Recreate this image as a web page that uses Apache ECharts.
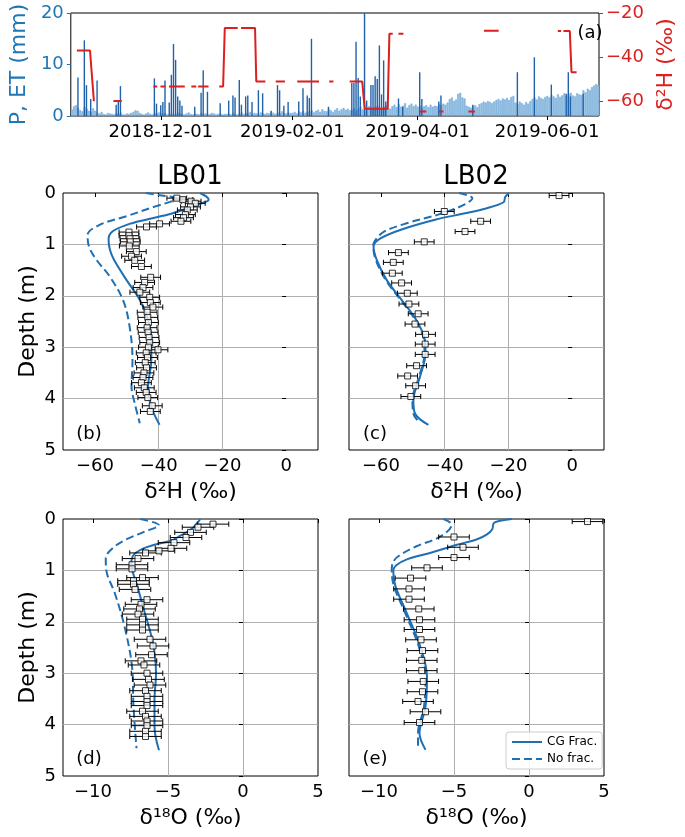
<!DOCTYPE html>
<html><head><meta charset="utf-8">
<script src="https://cdn.jsdelivr.net/npm/echarts@6/dist/echarts.min.js"></script>
<style>html,body{margin:0;padding:0;background:#fff}#c{width:685px;height:837px}</style>
</head><body><div id="c"></div>
<script>
// ---------------- DATA ----------------
// Panel (a): time range and date ticks
const timeRange = ['2018-10-19 15:00', '2019-06-25 11:00'];
const dateTicks = ['2018-12-01', '2019-02-01', '2019-04-01', '2019-06-01'];
const pTicks = [0, 10, 20];
const dHTicksA = [-60, -40, -20];

// Precipitation (mm)
const precipDates = ['2018-10-23','2018-10-26','2018-10-27','2018-10-29','2018-11-01','2018-11-10','2018-11-11','2018-11-12','2018-11-28','2018-11-29',
 '2018-12-01','2018-12-02','2018-12-03','2018-12-05','2018-12-06','2018-12-07','2018-12-08','2018-12-09','2018-12-10','2018-12-11','2018-12-17','2018-12-20','2018-12-21','2018-12-23','2018-12-29',
 '2019-01-02','2019-01-04','2019-01-05','2019-01-07','2019-01-08','2019-01-10','2019-01-11','2019-01-13','2019-01-16','2019-01-18','2019-01-22','2019-01-25','2019-01-26','2019-01-28','2019-01-30',
 '2019-02-04','2019-02-06','2019-02-08','2019-02-09','2019-02-10','2019-02-18',
 '2019-03-01','2019-03-02','2019-03-03','2019-03-04','2019-03-05','2019-03-07','2019-03-08','2019-03-10','2019-03-11','2019-03-12','2019-03-13','2019-03-14','2019-03-15','2019-03-16','2019-03-17','2019-03-23','2019-03-25',
 '2019-04-02','2019-04-03','2019-04-11','2019-04-12','2019-04-27','2019-05-18','2019-05-26',
 '2019-06-03','2019-06-10','2019-06-11','2019-06-12','2019-06-18'];
const precipValues = [7.5,14.7,6.0,3.3,6.9,2.2,2.9,5.8,7.3,2.4,
 2.1,2.7,6.9,2.6,8.0,14.0,10.9,3.8,3.0,2.0,1.8,4.5,8.9,4.7,2.5,
 3.0,4.0,3.6,7.0,2.2,3.8,4.0,2.7,5.0,4.4,1.0,6.0,5.0,2.0,2.7,
 2.8,5.4,4.0,3.5,15.0,1.8,
 6.4,6.4,14.4,7.4,3.8,21.0,3.0,6.0,6.0,7.7,7.2,13.7,4.2,10.8,2.8,3.4,1.8,
 8.5,3.3,2.8,4.0,2.2,8.5,11.4,
 6.1,4.3,8.5,3.8,4.3];

// Evapotranspiration (mm/day), one value per day from each start date
const etOct = [1.3,1.9,2.1,1.5,1.1,0.9,1.7,1.4,1.0,0.8,1.5,1.0];
const etNov = [0.7,0.5,0.8,0.4,0.3,0.6,0.5,0.4,0.3,0.6,0.4,0.7,0.3,0.3,0.5,0.4,0.6,0.8,1.1,1.0,0.6,0.4,0.3,0.5,0.7,0.4,0.3,0.6,0.5,0.7];
const etDec = [0.5,0.4,0.6,0.3,0.4,0.5,0.3,0.4,0.6,0.5,0.4,0.3,0.5,0.7,0.4,0.3,0.5,0.4,0.3,0.6,0.4,0.5,0.3,0.4,0.6,0.5,0.3,0.4,0.5,0.3,0.4];
const etJan = [0.4,0.5,0.3,0.6,0.4,0.3,0.5,0.7,0.4,0.6,0.5,0.8,0.4,0.6,0.5,0.3,0.7,0.5,0.4,0.6,0.5,0.8,0.6,0.4,0.7,0.5,0.9,0.6,0.5,0.7,0.6];
const etFeb = [0.6,0.8,0.5,0.9,0.7,1.0,0.6,0.8,0.9,1.1,0.7,1.0,1.2,0.8,1.3,1.0,0.9,1.4,1.1,0.8,1.2,1.5,1.0,1.3,1.6,1.2,1.4,1.1];
const etMar = [1.2,1.5,1.0,1.4,1.8,1.3,1.1,1.6,1.9,1.4,1.2,1.7,2.0,1.5,1.3,1.8,2.1,1.6,1.4,1.9,2.2,1.7,2.3,1.8,2.0,2.5,1.6,2.1,2.4,1.9,2.2];
const etApr = [1.8,2.0,1.6,1.9,2.1,1.7,2.2,1.8,2.0,1.9,2.3,2.1,2.4,2.2,2.6,3.3,3.6,2.9,3.2,4.3,4.5,3.6,3.4,2.0,1.8,1.6,1.9,2.1,1.7,2.3];
const etMay = [2.5,2.8,2.6,2.9,2.7,2.5,2.8,3.1,3.3,3.0,3.4,3.2,3.5,3.1,3.7,3.9,2.6,2.3,2.8,2.5,2.2,2.7,2.4,2.9,3.3,3.6,3.2,3.8,3.5,3.3,3.7];
const etJun = [3.9,3.6,4.1,3.8,3.5,4.2,3.7,4.0,4.4,3.9,4.3,4.5,4.0,3.8,4.4,4.2,4.1,5.0,4.6,5.3,5.0,5.6,5.9,6.2,6.0];
const etMonths = [['2018-10-20', etOct], ['2018-11-01', etNov], ['2018-12-01', etDec], ['2019-01-01', etJan], ['2019-02-01', etFeb],
 ['2019-03-01', etMar], ['2019-04-01', etApr], ['2019-05-01', etMay], ['2019-06-01', etJun]];

// Precipitation δ2H (‰): continuous segments of [date, value]
const rainD2H = [
 [['2018-10-22 12:00',-37.0],['2018-10-28 16:00',-37.0],['2018-10-30 12:00',-60.0]],
 [['2018-11-08 17:00',-59.9],['2018-11-12 15:00',-59.9]],
 [['2018-11-27 12:00',-53.3],['2018-11-29 08:00',-53.3]],
 [['2018-11-30 21:00',-53.3],['2018-12-03 07:00',-53.3]],
 [['2018-12-04 21:00',-53.3],['2018-12-12 08:00',-53.3]],
 [['2018-12-15 10:00',-53.3],['2018-12-17 17:00',-53.3]],
 [['2018-12-18 15:00',-53.3],['2018-12-23 12:00',-53.3]],
 [['2018-12-28 13:00',-53.3],['2018-12-30 09:00',-53.3],['2018-12-31 04:00',-26.8],['2019-01-06 06:00',-26.8]],
 [['2019-01-07 20:00',-26.8],['2019-01-14 10:00',-26.8],['2019-01-15 00:00',-51.1],['2019-01-19 07:00',-51.1]],
 [['2019-01-24 04:00',-51.1],['2019-01-28 12:00',-51.1]],
 [['2019-02-03 07:00',-51.1],['2019-02-13 13:00',-51.1]],
 [['2019-02-18 09:00',-51.1],['2019-02-20 08:00',-51.1]],
 [['2019-02-28 00:00',-51.1],['2019-03-05 22:00',-51.1],['2019-03-07 02:00',-63.4],['2019-03-17 22:00',-63.4],['2019-03-18 17:00',-29.4],['2019-03-20 07:00',-29.4]],
 [['2019-03-23 00:00',-29.4],['2019-03-25 08:00',-29.4]],
 [['2019-04-02 00:00',-64.7],['2019-04-05 02:00',-64.7]],
 [['2019-04-11 04:00',-64.7],['2019-04-13 04:00',-64.7]],
 [['2019-04-24 23:00',-64.7],['2019-04-28 00:00',-64.7]],
 [['2019-05-02 07:00',-28.0],['2019-05-09 05:00',-28.0]],
 [['2019-06-06 01:00',-28.2],['2019-06-07 14:00',-28.2]],
 [['2019-06-08 17:00',-28.2],['2019-06-11 17:00',-28.2],['2019-06-12 12:00',-46.9],['2019-06-14 22:00',-46.9]]
];

// Profiles: tick labels
const d2HTicks = [-60, -40, -20, 0];
const d18OTicks = [-10, -5, 0, 5];
const depthTicks = [0, 1, 2, 3, 4, 5];

// LB01 δ2H measurements
const lb01HDepth = [0.10,0.13,0.16,0.20,0.27,0.33,0.42,0.48,0.55,0.60,0.66,0.76,0.83,0.89,0.95,1.03,1.14,1.23,1.31,1.43,1.64,1.74,1.84,1.93,2.03,2.13,2.22,2.32,2.42,2.52,2.62,2.71,2.81,2.91,3.00,3.05,3.11,3.20,3.30,3.40,3.50,3.59,3.69,3.79,3.88,3.98,4.14,4.25];
const lb01HVal = [-34.3,-32.4,-29.8,-28.5,-30.0,-31.0,-31.6,-32.2,-33.0,-39.7,-43.8,-49.3,-49.3,-49.0,-48.9,-49.2,-47.0,-48.5,-47.5,-45.4,-42.5,-44.4,-44.9,-45.9,-42.8,-42.6,-41.8,-43.6,-43.4,-43.2,-43.6,-43.3,-43.0,-42.8,-43.2,-40.2,-43.9,-43.5,-44.2,-43.8,-44.6,-44.9,-45.4,-44.5,-43.9,-43.4,-42.0,-42.6];
const lb01HErr = 3.1;
// LB02 δ2H measurements
const lb02HDepth = [0.05,0.36,0.55,0.75,0.95,1.16,1.35,1.56,1.75,1.95,2.16,2.35,2.55,2.75,2.94,3.14,3.36,3.56,3.75,3.96];
const lb02HVal = [-4.1,-40.1,-28.7,-33.6,-46.4,-54.5,-56.1,-56.4,-53.5,-51.7,-51.2,-48.3,-49.3,-46.0,-46.1,-46.1,-48.8,-51.6,-49.1,-50.6];
const lb02HErr = 3.1;
// LB01 δ18O measurements
const lb01ODepth = [0.10,0.16,0.26,0.36,0.46,0.57,0.62,0.66,0.77,0.89,0.97,1.14,1.20,1.27,1.37,1.57,1.66,1.75,1.85,1.95,2.06,2.16,2.34,2.47,2.64,2.76,2.84,3.00,3.12,3.23,3.34,3.45,3.55,3.63,3.74,3.84,3.93,4.02,4.13,4.23];
const lb01OVal = [-2.0,-3.0,-3.5,-3.8,-4.6,-4.8,-5.6,-6.5,-7.0,-7.4,-7.4,-6.7,-7.3,-7.3,-7.2,-6.4,-6.8,-6.9,-7.0,-6.7,-6.7,-6.7,-6.2,-6.0,-6.1,-6.8,-6.6,-6.4,-6.3,-6.2,-6.5,-6.4,-6.4,-6.4,-6.7,-6.5,-6.4,-6.4,-6.5,-6.5];
const lb01OErr = 1.05;
// LB02 δ18O measurements
const lb02ODepth = [0.05,0.35,0.55,0.75,0.95,1.15,1.36,1.56,1.75,1.96,2.15,2.35,2.56,2.75,2.95,3.16,3.36,3.55,3.75,3.96];
const lb02OVal = [3.9,-5.0,-4.4,-5.0,-6.8,-7.9,-8.0,-8.0,-7.35,-7.3,-7.3,-7.2,-7.1,-7.15,-7.15,-7.05,-7.1,-7.4,-6.9,-7.3];
const lb02OErr = 1.02;

// Model curves: [depth, value]
const lb01HFrac = [[0,-27],[0.07,-25],[0.13,-24.3],[0.2,-26.5],[0.3,-31],[0.42,-37],[0.52,-44],[0.62,-50],[0.75,-54.5],[0.9,-55.7],[1.1,-55.3],[1.3,-54.0],[1.69,-50.1],[2.08,-45.9],[2.47,-43.3],[2.86,-42.3],[3.25,-42.3],[3.77,-43.3],[4.16,-42.3],[4.51,-39.7]];
const lb01HNoFrac = [[0,-44],[0.05,-39],[0.1,-34.5],[0.15,-35.5],[0.26,-41],[0.45,-50],[0.62,-58.5],[0.82,-62.3],[1.05,-61.8],[1.3,-59.5],[1.62,-55.4],[2.08,-51.2],[2.6,-49.1],[3.25,-48.2],[3.77,-48.5],[4.09,-47.5],[4.48,-45.9]];
const lb02HFrac = [[0,-19.8],[0.08,-21],[0.18,-21.5],[0.3,-27],[0.4,-34],[0.52,-43],[0.7,-53],[0.88,-60],[1.04,-62.3],[1.3,-61.3],[1.69,-58.2],[2.08,-53.5],[2.47,-48.9],[2.86,-46.2],[3.12,-46.0],[3.57,-47.7],[4.03,-49.8],[4.29,-49.3],[4.51,-45.1]];
const lb02HNoFrac = [[0,-35.5],[0.1,-31.3],[0.2,-33],[0.3,-36.5],[0.42,-42],[0.6,-52.5],[0.75,-59],[0.88,-61.3],[1.02,-62.4],[1.3,-61.6],[1.69,-58.5],[2.08,-53.8],[2.47,-49.2],[2.86,-46.5],[3.12,-46.3],[3.57,-48.0],[4.03,-50.1],[4.29,-49.8],[4.48,-47.7]];
const lb01OFrac = [[0,-2.85],[0.1,-3.1],[0.21,-3.5],[0.33,-4.2],[0.42,-4.8],[0.5,-5.9],[0.58,-6.7],[0.7,-7.3],[0.88,-7.45],[1.25,-7.1],[1.77,-6.6],[2.42,-6.0],[3.0,-5.8],[3.52,-5.9],[4.04,-5.9],[4.5,-5.6]];
const lb01ONoFrac = [[0,-6.85],[0.12,-5.6],[0.25,-6.6],[0.4,-7.8],[0.57,-8.7],[0.76,-9.15],[1.02,-9.1],[1.44,-8.55],[2.09,-7.9],[2.87,-7.4],[3.65,-7.3],[4.46,-7.1]];
const lb02OFrac = [[0,-1.15],[0.04,-2.0],[0.08,-2.35],[0.2,-2.45],[0.3,-2.8],[0.4,-3.5],[0.5,-4.8],[0.66,-6.6],[0.78,-8.1],[0.9,-8.85],[1.0,-9.05],[1.31,-8.9],[1.83,-8.15],[2.48,-7.25],[3.07,-6.8],[3.65,-6.9],[4.17,-7.3],[4.49,-6.9]];
const lb02ONoFrac = [[0,-5.7],[0.11,-5.15],[0.34,-5.9],[0.53,-7.5],[0.7,-8.6],[0.83,-9.05],[1.0,-9.15],[1.31,-9.0],[1.83,-8.25],[2.48,-7.35],[3.07,-6.9],[3.65,-7.0],[4.17,-7.4],[4.46,-7.4]];

// ---------------- BUILD ----------------
const FONT = 'DejaVu Sans';
const BLUE = '#1f77b4';
const LINEBLUE = '#1f6fb4';
const RED = '#dc1f1f';
const DAY = 86400000;
function ts(s) {
  const parts = s.split(' ');
  const d = parts[0].split('-').map(Number);
  let h = 0, mi = 0;
  if (parts[1]) { const t = parts[1].split(':').map(Number); h = t[0]; mi = t[1]; }
  return Date.UTC(d[0], d[1] - 1, d[2], h, mi);
}
function pad(n) { return (n < 10 ? '0' : '') + n; }
function fmtDate(v) { const d = new Date(v); return d.getUTCFullYear() + '-' + pad(d.getUTCMonth() + 1) + '-' + pad(d.getUTCDate()); }
function minus(v) { return String(v).replace('-', '\u2212'); }

const etData = [];
etMonths.forEach(([start, vals]) => { const t0 = ts(start); vals.forEach((v, i) => etData.push([t0 + i * DAY, v])); });
const precipData = precipDates.map((d, i) => [ts(d), precipValues[i]]);
const redData = [];
rainD2H.forEach((seg, k) => {
  seg.forEach(p => redData.push([ts(p[0]), p[1]]));
  if (k < rainD2H.length - 1) redData.push([ts(seg[seg.length - 1][0]), null]);
});

const grids = [
  { left: 62, top: 13, width: 542, height: 103 },
  { left: 63, top: 193, width: 255, height: 257 },
  { left: 349, top: 193, width: 255, height: 257 },
  { left: 63, top: 519, width: 255, height: 257 },
  { left: 349, top: 519, width: 255, height: 257 }
].map(g => Object.assign(g, { show: true, borderColor: '#000', borderWidth: 1, containLabel: false }));

const xAxes = [{
  gridIndex: 0, type: 'value', min: ts(timeRange[0]), max: ts(timeRange[1]),
  axisLine: { show: false }, splitLine: { show: false },
  axisTick: { show: true, length: 4, lineStyle: { color: '#000' }, customValues: dateTicks.map(ts) },
  axisLabel: { customValues: dateTicks.map(ts), formatter: fmtDate, fontSize: 18, color: '#000', margin: 7, fontFamily: FONT }
}];
const yAxes = [{
  gridIndex: 0, type: 'value', min: 0, max: 20, interval: 10, position: 'left',
  axisLine: { show: false }, splitLine: { show: false },
  axisTick: { show: true, length: 4, lineStyle: { color: BLUE }, customValues: pTicks },
  axisLabel: { customValues: pTicks, color: BLUE, fontSize: 18, margin: 7, fontFamily: FONT },
  name: 'P, ET (mm)', nameLocation: 'middle', nameGap: 38, nameRotate: 90,
  nameTextStyle: { color: BLUE, fontSize: 22, fontFamily: FONT }
}, {
  gridIndex: 0, type: 'value', min: -66.7, max: -20, position: 'right',
  axisLine: { show: false }, splitLine: { show: false },
  axisTick: { show: true, length: 4, lineStyle: { color: RED }, customValues: dHTicksA },
  axisLabel: { customValues: dHTicksA, color: RED, fontSize: 18, margin: 7, formatter: minus, fontFamily: FONT },
  name: 'δ²H (‰)', nameLocation: 'middle', nameGap: 56, nameRotate: 90,
  nameTextStyle: { color: RED, fontSize: 22, fontFamily: FONT }
}];

const GRIDC = '#b0b0b0';
const panels = [
  { g: 1, xmin: -70, xmax: 10, sn: 4, ticks: d2HTicks, xname: 'δ²H (‰)', yl: true, depth: lb01HDepth, val: lb01HVal, err: lb01HErr, frac: lb01HFrac, nofrac: lb01HNoFrac },
  { g: 2, xmin: -70, xmax: 10, sn: 4, ticks: d2HTicks, xname: 'δ²H (‰)', yl: false, depth: lb02HDepth, val: lb02HVal, err: lb02HErr, frac: lb02HFrac, nofrac: lb02HNoFrac },
  { g: 3, xmin: -12, xmax: 5, sn: 3, ticks: d18OTicks, xname: 'δ¹⁸O (‰)', yl: true, depth: lb01ODepth, val: lb01OVal, err: lb01OErr, frac: lb01OFrac, nofrac: lb01ONoFrac },
  { g: 4, xmin: -12, xmax: 5, sn: 3, ticks: d18OTicks, xname: 'δ¹⁸O (‰)', yl: false, depth: lb02ODepth, val: lb02OVal, err: lb02OErr, frac: lb02OFrac, nofrac: lb02ONoFrac }
];

const series = [
  { type: 'bar', name: 'ET', xAxisIndex: 0, yAxisIndex: 0, data: etData, barWidth: 1.9,
    itemStyle: { color: '#9cc3e5', borderColor: '#5f9fd2', borderWidth: 0.5 }, z: 1 },
  { type: 'bar', name: 'P', xAxisIndex: 0, yAxisIndex: 0, data: precipData, barWidth: 1.4, barGap: '-100%',
    itemStyle: { color: '#1f62aa' }, z: 2 },
  { type: 'line', name: 'rain', xAxisIndex: 0, yAxisIndex: 1, data: redData, showSymbol: false, symbol: 'none',
    connectNulls: false, lineStyle: { color: RED, width: 2 }, itemStyle: { color: RED }, z: 3 }
];

panels.forEach(p => {
  xAxes.push({
    gridIndex: p.g, type: 'value', min: p.xmin, max: p.xmax, splitNumber: p.sn,
    axisLine: { show: false },
    splitLine: { show: true, showMinLine: false, showMaxLine: false, lineStyle: { color: GRIDC, width: 1 } },
    axisTick: { show: true, length: 4, lineStyle: { color: '#000' }, customValues: p.ticks },
    axisLabel: { customValues: p.ticks, fontSize: 18, color: '#000', margin: 7, formatter: minus, fontFamily: FONT },
    name: p.xname, nameLocation: 'middle', nameGap: 31, nameTextStyle: { fontSize: 22, color: '#000', fontFamily: FONT }
  });
  yAxes.push({
    gridIndex: p.g, type: 'value', min: 0, max: 5, interval: 1, inverse: true,
    axisLine: { show: false },
    splitLine: { show: true, showMinLine: false, showMaxLine: false, lineStyle: { color: GRIDC, width: 1 } },
    axisTick: { show: true, length: 4, lineStyle: { color: '#000' }, customValues: depthTicks },
    axisLabel: { show: p.yl, customValues: depthTicks, fontSize: 18, color: '#000', margin: 7, fontFamily: FONT },
    name: p.yl ? 'Depth (m)' : '', nameLocation: 'middle', nameGap: 24, nameRotate: 90,
    nameTextStyle: { fontSize: 22, color: '#000', fontFamily: FONT }
  });
  const xi = p.g, yi = p.g + 1;
  series.push({
    type: 'line', name: 'CG Frac.', xAxisIndex: xi, yAxisIndex: yi, data: p.frac.map(q => [q[1], q[0]]),
    smooth: 0.35, showSymbol: false, symbol: 'none', lineStyle: { color: LINEBLUE, width: 2 }, itemStyle: { color: LINEBLUE }, z: 2
  });
  series.push({
    type: 'line', name: 'No frac.', xAxisIndex: xi, yAxisIndex: yi, data: p.nofrac.map(q => [q[1], q[0]]),
    smooth: 0.35, showSymbol: false, symbol: 'none', lineStyle: { color: LINEBLUE, width: 2, type: [8, 4] }, itemStyle: { color: LINEBLUE }, z: 2
  });
  series.push({
    type: 'custom', name: 'err' + p.g, xAxisIndex: xi, yAxisIndex: yi, z: 3, clip: true,
    data: p.depth.map((d, i) => [p.val[i], d, p.err]),
    encode: { x: 0, y: 1 },
    renderItem: function (params, api) {
      const v = api.value(0), d = api.value(1), e = api.value(2);
      const a = api.coord([v - e, d]), b = api.coord([v + e, d]);
      const h = 2.6, st = { stroke: '#000', lineWidth: 1 };
      return { type: 'group', children: [
        { type: 'line', shape: { x1: a[0], y1: a[1], x2: b[0], y2: b[1] }, style: st },
        { type: 'line', shape: { x1: a[0], y1: a[1] - h, x2: a[0], y2: a[1] + h }, style: st },
        { type: 'line', shape: { x1: b[0], y1: b[1] - h, x2: b[0], y2: b[1] + h }, style: st }
      ] };
    }
  });
  series.push({
    type: 'scatter', name: 'pts' + p.g, xAxisIndex: xi, yAxisIndex: yi, z: 4,
    data: p.depth.map((d, i) => [p.val[i], d]), symbol: 'rect', symbolSize: 6,
    itemStyle: { color: '#fff', borderColor: '#000', borderWidth: 1 }
  });
});

function txt(t, x, y, size) {
  return { type: 'text', x: x, y: y, z: 10, style: { text: t, fontSize: size, fontFamily: FONT, fill: '#000', align: 'center', verticalAlign: 'middle' } };
}

const option = {
  animation: false,
  textStyle: { fontFamily: FONT },
  grid: grids,
  xAxis: xAxes,
  yAxis: yAxes,
  series: series,
  legend: {
    data: ['CG Frac.', 'No frac.'], orient: 'vertical', left: 506, top: 732,
    itemWidth: 30, itemHeight: 12, itemGap: 5, padding: [4, 5],
    itemStyle: { opacity: 0, borderWidth: 0 },
    backgroundColor: 'rgba(255,255,255,0.85)', borderColor: '#cccccc', borderWidth: 1, borderRadius: 3,
    textStyle: { fontSize: 12, fontFamily: FONT, color: '#000' }
  },
  graphic: [
    txt('LB01', 190, 177, 26),
    txt('LB02', 476, 177, 26),
    txt('(a)', 590, 33, 18),
    txt('(b)', 89, 434, 18),
    txt('(c)', 375, 434, 18),
    txt('(d)', 89, 759, 18),
    txt('(e)', 375, 759, 18)
  ]
};

const chart = echarts.init(document.getElementById('c'), null, { renderer: 'canvas' });
chart.setOption(option);
</script></body></html>
